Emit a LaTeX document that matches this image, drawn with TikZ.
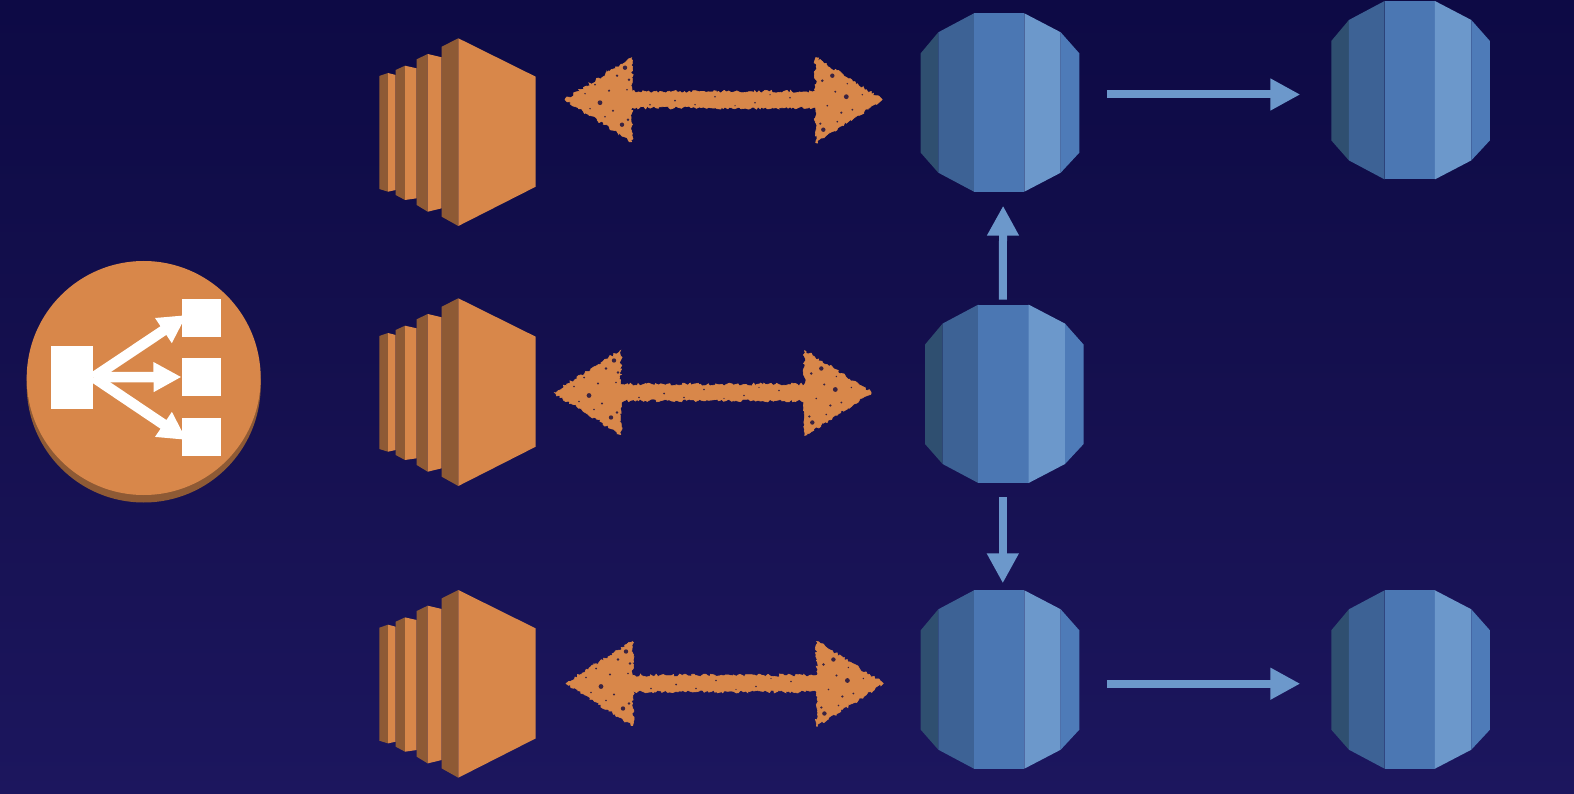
\documentclass[tikz,border=0pt]{standalone}
\usetikzlibrary{arrows.meta,calc,decorations.pathmorphing}
\definecolor{bgtop}{HTML}{0D0A45}
\definecolor{bgmid}{HTML}{15104F}
\definecolor{bgbot}{HTML}{1C165E}
\definecolor{org}{HTML}{D8874A}
\definecolor{orgdark}{HTML}{8E5A35}
\definecolor{dba}{HTML}{2F4F70}
\definecolor{dbb}{HTML}{3D6295}
\definecolor{dbc}{HTML}{4B77B3}
\definecolor{dbd}{HTML}{6C98CB}
\definecolor{dbe}{HTML}{4E7BB8}
\definecolor{speckc}{HTML}{3A2342}
\tikzset{
  iconbox/.style={inner sep=0pt,outer sep=0pt,anchor=north west},
  bluearrow/.style={draw=dbd,line width=8pt,-{Triangle[width=30pt,length=30pt]}},
  whitearrow/.style={draw=white,line width=10.5pt,-{Triangle[width=28pt,length=28pt]}},
  fuzzy/.style={fill=org,draw=org,line width=0.6pt,decorate,decoration={random steps,segment length=2pt,amplitude=1.5pt}},
  speck/.style={fill=speckc,draw=none}
}
\newcommand{\ecicon}[3]{%
  \node[iconbox,minimum width=156.4pt,minimum height=187.7pt] (#1) at (#2,#3) {};
  \begin{scope}[shift={(#2,#3)}]
    \fill[orgdark] (0,37.7) -- (8.7,34.7) -- (8.7,153.4) -- (0,150.7) -- cycle;
    \fill[org] (8.7,34.7) -- (16.4,36.7) -- (16.4,151.7) -- (8.7,153.4) -- cycle;
    \fill[orgdark] (16.4,31.7) -- (25.7,27.4) -- (25.7,161.7) -- (16.4,156.7) -- cycle;
    \fill[org] (25.7,27.4) -- (37.4,30) -- (37.4,160) -- (25.7,161.7) -- cycle;
    \fill[orgdark] (37.4,21) -- (48.4,15.7) -- (48.4,173.4) -- (37.4,166.7) -- cycle;
    \fill[org] (48.4,15.7) -- (62.4,19) -- (62.4,170) -- (48.4,173.4) -- cycle;
    \fill[orgdark] (62.4,8.4) -- (79,0) -- (79,187.7) -- (62.4,178.4) -- cycle;
    \fill[org] (79,0) -- (156.4,38.4) -- (156.4,148.4) -- (79,187.7) -- cycle;
  \end{scope}}
\newcommand{\dbicon}[3]{%
  \node[iconbox,minimum width=158.6pt,minimum height=178.4pt] (#1) at (#2,#3) {};
  \begin{scope}[shift={(#2,#3)}]
    \fill[dba] (0,40) -- (17.6,19) -- (17.6,159.4) -- (0,139.4) -- cycle;
    \fill[dbb] (17.6,19) -- (53.3,0) -- (53.3,178.4) -- (17.6,159.4) -- cycle;
    \fill[dbc] (53.3,0) -- (103.6,0) -- (103.6,178.4) -- (53.3,178.4) -- cycle;
    \fill[dbd] (103.6,0) -- (140,19) -- (140,159.4) -- (103.6,178.4) -- cycle;
    \fill[dbe] (140,19) -- (158.6,40) -- (158.6,139.4) -- (140,159.4) -- cycle;
  \end{scope}}
% #1 left tip, #2 right tip: double-headed fuzzy arrow between two named coordinates
\newcommand{\fuzzyarrow}[2]{%
  \path[fuzzy] (#1) -- ++(66.7,-42) -- ++(0,34) -- ($(#2)+(-66.7,-8)$)
     -- ++(0,-34) -- (#2) -- ++(-66.7,43) -- ++(0,-35) -- ($(#1)+(66.7,8)$)
     -- ++(0,34) -- cycle;
  \foreach \sx/\sy/\r in {60/-32/2.2,35/3/2.4,57/25/2.2,63/20/1.4,52/-24/1.3,64/-20/1.4,44/-9/1.2,30/-15/1,48/11/1.1,62/-10/.9,20/-6/.8,40/17/.9,25/9/.8}
    \fill[speck] ($(#1)+(\sx,\sy)$) circle[radius=\r pt];
  \foreach \sx/\sy/\r in {-50/-24/2.2,-36/-3/2.4,-59/30/2.2,-60/-19/1.4,-41/13/1.2,-30/10/1,-47/-8/1.1,-62/24/1.2,-20/-5/.8,-55/6/.9,-45/22/.9,-35/-16/.8}
    \fill[speck] ($(#2)+(\sx,\sy)$) circle[radius=\r pt];
  \foreach \sx/\sy/\r in {85/5/.9,110/1/1,150/-3/.9,190/3/.9,225/-2/.9,130/5/.8,170/6/.7,205/-5/.7}
    \fill[speck] ($(#1)+(\sx,\sy)$) circle[radius=\r pt];
}
\begin{document}
\begin{tikzpicture}[x=1pt,y=-1pt]
\useasboundingbox (0,0) rectangle (1574,794);
\shade[top color=bgtop,bottom color=bgbot,middle color=bgmid] (0,0) rectangle (1574,794);

% load balancer
\fill[orgdark] (143.7,385.5) circle[radius=117];
\node[circle,fill=org,inner sep=0pt,minimum size=234pt] (lb) at (143.7,378) {};
\node[fill=white,inner sep=0pt,minimum width=42.6pt,minimum height=63.3pt] (src) at (72,377.3) {};
\node[fill=white,inner sep=0pt,minimum width=39pt,minimum height=37.4pt] (t1) at (201.2,318) {};
\node[fill=white,inner sep=0pt,minimum width=39pt,minimum height=37.4pt] (t2) at (201.2,377) {};
\node[fill=white,inner sep=0pt,minimum width=39pt,minimum height=38pt] (t3) at (201.2,436.7) {};
\draw[whitearrow] (src.east) -- ([shift={(-14.5,-3)}]t1.center);
\draw[whitearrow] (src.east) -- (t2.west);
\draw[whitearrow] (src.east) -- ([shift={(-14.5,3.3)}]t3.center);

% instances
\ecicon{ec1}{379.3}{38.3}
\ecicon{ec2}{379.3}{298.3}
\ecicon{ec3}{379.3}{590}

% databases
\dbicon{db1}{920.7}{13.3}
\dbicon{db2}{925}{304.6}
\dbicon{db3}{920.7}{590.3}
\dbicon{dbr1}{1331.3}{1}
\dbicon{dbr3}{1331.3}{590.3}

% fuzzy double arrows
\coordinate (fl1) at (565,99.7);
\coordinate (fr1) at (882.3,99.7);
\coordinate (fl2) at (554,392.5);
\coordinate (fr2) at (871.3,392.5);
\coordinate (fl3) at (566,683.5);
\coordinate (fr3) at (883.4,683.5);
\fuzzyarrow{fl1}{fr1}
\fuzzyarrow{fl2}{fr2}
\fuzzyarrow{fl3}{fr3}

% replication arrows
\draw[bluearrow] ([shift={(27.5,-8)}]db1.east) -- ([shift={(-31,4.3)}]dbr1.west);
\draw[bluearrow] ([shift={(27.5,4.2)}]db3.east) -- ([shift={(-31,4.2)}]dbr3.west);
\draw[bluearrow] ([shift={(-1.5,-5)}]db2.north) -- ([shift={(3.1,14)}]db1.south);
\draw[bluearrow] ([shift={(-1.5,14)}]db2.south) -- ([shift={(-1.5,-7)}]db2.south |- db3.north);
\end{tikzpicture}
\end{document}
